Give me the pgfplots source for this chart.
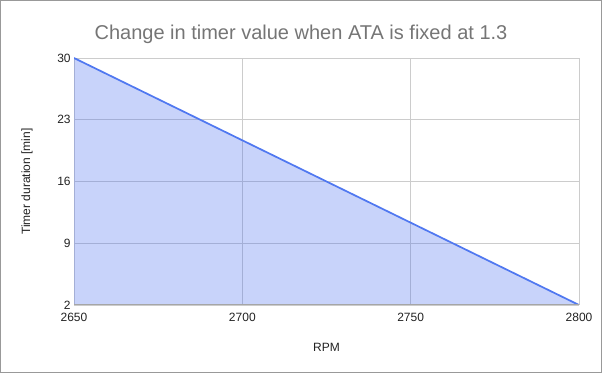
\documentclass[border=0pt]{standalone}
\usepackage{fontspec}
\setmainfont{Liberation Sans}
\usepackage{pgfplots}
\pgfplotsset{compat=1.18}
\definecolor{lineblue}{HTML}{5078F0}
\definecolor{fillblue}{HTML}{4A6EF0}
\definecolor{gridgray}{HTML}{CCCCCC}
\definecolor{titlegray}{HTML}{757575}
\definecolor{labelgray}{HTML}{222222}
\begin{document}
\begin{tikzpicture}
\useasboundingbox (0,0) rectangle (451.5pt,279.75pt);
\draw[color=gray!80, line width=0.75pt] (0.375pt,0.375pt) rectangle (451.125pt,279.375pt);
\begin{axis}[
  at={(55.5pt,51pt)}, anchor=south west,
  scale only axis, width=378.75pt, height=185.25pt,
  xmin=2650, xmax=2800, ymin=2, ymax=30,
  xtick={2650,2700,2750,2800}, ytick={2,9,16,23,30},
  axis line style={draw=none},
  tick style={draw=none},
  grid=major, major grid style={gridgray, line width=0.6pt},
  /pgf/number format/assume math mode=true,
  /pgf/number format/set thousands separator={},
  tick label style={font=\fontsize{9}{10}\selectfont, text=labelgray},
  yticklabel style={xshift=1pt},
  xticklabel style={yshift=-2.5pt},
  title={Change in timer value when ATA is fixed at 1.3},
  title style={font=\fontsize{15}{17}\selectfont, text=titlegray, at={(axis description cs:0.4495,1)}, anchor=center, yshift=11.5pt},
  xlabel={RPM}, ylabel={Timer duration [min]},
  every axis x label/.style={at={(axis description cs:0.5,0)}, anchor=center, yshift=-31.5pt, font=\fontsize{9}{10}\selectfont, text=labelgray},
  every axis y label/.style={at={(axis description cs:-0.0931,0.5)}, rotate=90, anchor=center, font=\fontsize{9}{10}\selectfont, text=labelgray},
  clip=true,
]
\addplot[draw=none, fill=fillblue, fill opacity=0.3] coordinates {(2650,30) (2800,2)} \closedcycle;
\addplot[lineblue, line width=1.3pt] coordinates {(2650,30) (2800,2)};
\draw[color=gray!70, line width=0.75pt] (rel axis cs:0,0) -- (rel axis cs:1,0);
\end{axis}
\end{tikzpicture}
\end{document}
